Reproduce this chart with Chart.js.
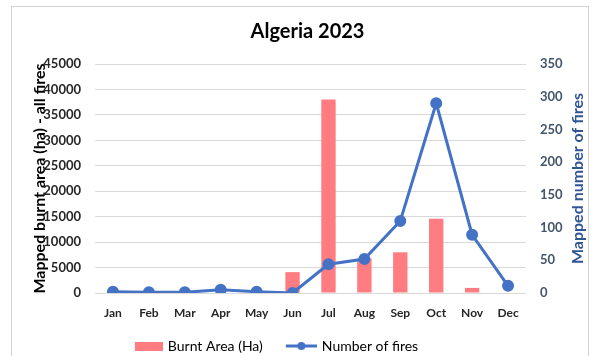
<!DOCTYPE html>
<html>
<head>
<meta charset="utf-8">
<script src="https://cdn.jsdelivr.net/npm/chart.js@4.4.0/dist/chart.umd.min.js"></script>
<style>
  html, body { margin: 0; padding: 0; background: #fff; overflow: hidden; }
  #frame { position: absolute; left: 11px; top: 6px; width: 578px; height: 370px; border: 1px solid #d4d4d4; box-sizing: border-box; }
  canvas { position: absolute; left: 0; top: 0; }
</style>
</head>
<body>
<div id="frame"></div>
<canvas id="c" width="593" height="356"></canvas>
<script>
const months = ['Jan','Feb','Mar','Apr','May','Jun','Jul','Aug','Sep','Oct','Nov','Dec'];
const burntArea = [0, 0, 0, 0, 0, 4100, 38000, 6800, 8000, 14600, 1000, 0];
const numberOfFires = [2, 1, 1, 5, 2, 0, 44, 52, 110, 290, 89, 11];
const leftTicks = [0, 5000, 10000, 15000, 20000, 25000, 30000, 35000, 40000, 45000];
const rightTicks = [0, 50, 100, 150, 200, 250, 300, 350];

const barColor = '#FF7C80';
const lineColor = '#4472C4';
const FONT = 'Lato, "Open Sans", sans-serif';
const rightTitle = 'Mapped number of fires';

const SW = 50; // legend swatch slot width
function swatch(kind) {
  const cv = document.createElement('canvas');
  cv.width = SW + 4; cv.height = 12;
  const g = cv.getContext('2d');
  const end = SW + 4;
  if (kind === 'bar') {
    g.fillStyle = barColor;
    g.fillRect(end - 28, 2, 28, 9);
  } else {
    g.strokeStyle = lineColor; g.lineWidth = 3;
    g.beginPath(); g.moveTo(end - 31, 6); g.lineTo(end, 6); g.stroke();
    g.fillStyle = lineColor;
    g.beginPath(); g.arc(end - 15.5, 6, 4, 0, Math.PI * 2); g.fill();
  }
  return cv;
}
const swBar = swatch('bar');
const swLine = swatch('line');

const customPlugin = {
  id: 'custom',
  afterLayout(chart) {
    const lg = chart.legend;
    if (lg) { lg.left -= 43; lg.right -= 43; lg.top += 7; lg.bottom += 7; }
  },
  afterDraw(chart) {
    const ctx = chart.ctx;
    const a = chart.chartArea;
    ctx.save();
    ctx.translate(578, (a.top + a.bottom) / 2);
    ctx.rotate(-Math.PI / 2);
    ctx.fillStyle = '#2F5597';
    ctx.font = 'bold 16px ' + FONT;
    ctx.textAlign = 'center';
    ctx.textBaseline = 'middle';
    ctx.fillText(rightTitle, 0, 0);
    ctx.restore();
  }
};

new Chart(document.getElementById('c'), {
  data: {
    labels: months,
    datasets: [
      {
        type: 'line',
        label: 'Number of fires',
        data: numberOfFires,
        yAxisID: 'y1',
        borderColor: lineColor,
        backgroundColor: lineColor,
        borderWidth: 3,
        pointRadius: 4.5,
        pointBackgroundColor: lineColor,
        pointBorderColor: lineColor,
        tension: 0,
        order: 0
      },
      {
        type: 'bar',
        label: 'Burnt Area (Ha)',
        data: burntArea,
        yAxisID: 'y',
        backgroundColor: barColor,
        barPercentage: 0.4,
        categoryPercentage: 1.0,
        order: 1
      }
    ]
  },
  plugins: [customPlugin],
  options: {
    responsive: false,
    animation: false,
    layout: { padding: { left: 30, right: 8, top: 0, bottom: 0 } },
    plugins: {
      title: {
        display: true,
        text: 'Algeria 2023',
        color: '#000',
        font: { family: FONT, size: 20, weight: 'bold' },
        padding: { top: 20, bottom: 20 }
      },
      legend: {
        position: 'bottom',
        labels: {
          usePointStyle: true,
          pointStyleWidth: SW,
          color: '#595959',
          font: { family: FONT, size: 14 },
          padding: 2,
          generateLabels(chart) {
            return [
              { text: 'Burnt Area (Ha)', pointStyle: swBar, fillStyle: barColor, strokeStyle: barColor, lineWidth: 0, datasetIndex: 1, hidden: false },
              { text: 'Number of fires', pointStyle: swLine, fillStyle: lineColor, strokeStyle: lineColor, lineWidth: 0, datasetIndex: 0, hidden: false }
            ];
          }
        }
      },
      tooltip: { enabled: false }
    },
    scales: {
      x: {
        grid: { display: false, drawTicks: false },
        border: { display: false },
        ticks: { color: '#262626', font: { family: FONT, size: 12, weight: 'bold' }, padding: 13 },
        afterFit(s) { s.height = 37; }
      },
      y: {
        position: 'left',
        min: 0, max: 45000,
        afterBuildTicks(s) { s.ticks = leftTicks.map(v => ({ value: v })); },
        grid: { color: '#d9d9d9', lineWidth: 1, drawTicks: false },
        border: { display: false },
        ticks: { color: '#262626', font: { family: FONT, size: 13, weight: 'bold' }, padding: 14, callback: v => String(v) },
        title: { display: true, text: 'Mapped burnt area (ha) - all fires', color: '#000', font: { family: FONT, size: 16, weight: 'bold' }, padding: 0 },
        afterFit(s) { s.width = 65; }
      },
      y1: {
        position: 'right',
        min: 0, max: 350,
        afterBuildTicks(s) { s.ticks = rightTicks.map(v => ({ value: v })); },
        grid: { display: false, drawTicks: false },
        border: { display: false },
        ticks: { color: '#44546A', font: { family: FONT, size: 13, weight: 'bold' }, padding: 14, callback: v => String(v) },
        afterFit(s) { s.width = 59; }
      }
    }
  }
});
</script>
</body>
</html>
